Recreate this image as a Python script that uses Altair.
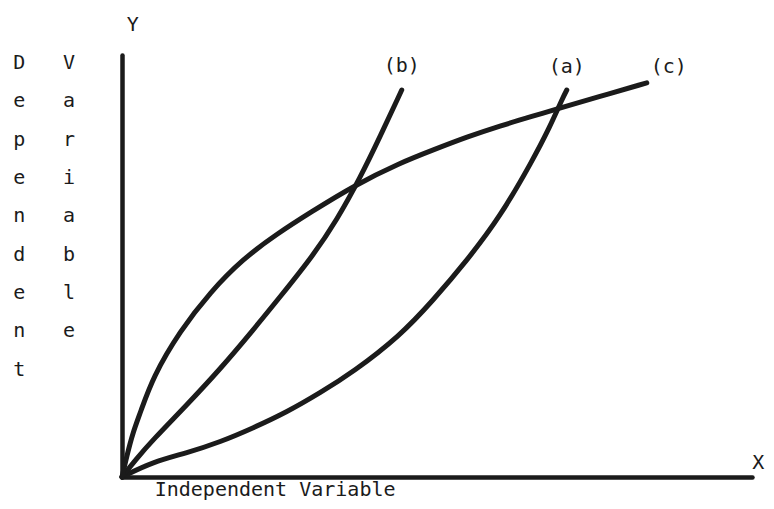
import altair as alt
import pandas as pd

# Curve values (x: independent variable 0-100, y: dependent variable 0-100)
a_x = [0, 4.9, 10.3, 15.6, 20.8, 26.2, 31.4, 36.7, 44.1, 49.4, 54.8, 60.0, 65.2, 67.9, 70.0, 70.6]
a_y = [0, 3.6, 5.7, 8.3, 11.6, 15.4, 19.9, 24.9, 33.4, 41.9, 51.4, 61.6, 75.1, 82.9, 90.0, 91.7]

b_x = [0, 2.1, 4.9, 10.3, 15.6, 20.8, 25.1, 30.3, 34.1, 37.8, 41.0, 44.4]
b_y = [0, 4.0, 8.8, 17.1, 25.6, 34.8, 42.7, 52.4, 60.9, 70.9, 80.8, 91.7]

c_x = [0, 0.8, 1.7, 2.9, 4.9, 9.2, 14.0, 19.2, 24.6, 29.8, 37.0, 44.1, 49.4, 54.8, 60.0, 65.2, 69.5, 75.4, 83.3]
c_y = [0, 5.2, 10.4, 15.2, 23.7, 34.6, 43.8, 51.7, 57.6, 62.6, 69.2, 74.4, 77.5, 80.6, 83.2, 85.5, 87.4, 90.0, 93.4]

# Curve labels
curve_names = ["(a)", "(b)", "(c)"]
curve_label_x = [70.6, 44.4, 86.8]
curve_label_y = [97.2, 97.4, 97.2]

# Vertical axis title letters
dep_letters = list("Dependent")
var_letters = list("Variable")
letter_y = [98.1, 89.1, 79.9, 70.9, 61.8, 52.6, 43.6, 34.6, 25.4]

INK = "#1b1b1b"
FONT = "DejaVu Sans Mono"

rows = []
for name, xs_, ys_ in [("a", a_x, a_y), ("b", b_x, b_y), ("c", c_x, c_y)]:
    for i, (x, y) in enumerate(zip(xs_, ys_)):
        rows.append({"series": name, "i": i, "x": x, "y": y})
curves = pd.DataFrame(rows)

xs = alt.Scale(domain=[0, 100], nice=False, zero=False)
ys = alt.Scale(domain=[0, 100], nice=False, zero=False)

x_axis = alt.Axis(labels=False, ticks=False, title=None, grid=False,
                  domainWidth=4.5, domainColor=INK, domainCap="round")
y_axis = alt.Axis(labels=False, ticks=False, title=None, grid=False,
                  domainWidth=4.5, domainColor=INK, domainCap="round")

lines = alt.Chart(curves).mark_line(
    color=INK, strokeWidth=5, interpolate="basis", strokeCap="round"
).encode(
    x=alt.X("x:Q", scale=xs, axis=x_axis),
    y=alt.Y("y:Q", scale=ys, axis=y_axis),
    detail="series:N",
    order="i:Q",
)

labels_df = pd.DataFrame({"t": curve_names, "x": curve_label_x, "y": curve_label_y})
curve_labels = alt.Chart(labels_df).mark_text(
    font=FONT, fontSize=20, color=INK, baseline="middle", align="center"
).encode(x=alt.X("x:Q", scale=xs), y=alt.Y("y:Q", scale=ys), text="t:N")

letters_rows = []
for ch, y in zip(dep_letters, letter_y):
    letters_rows.append({"t": ch, "x": -16.3, "y": y})
for ch, y in zip(var_letters, letter_y):
    letters_rows.append({"t": ch, "x": -8.4, "y": y})
letters_rows.append({"t": "Y", "x": 1.7, "y": 107.1})
letters_rows.append({"t": "X", "x": 101.0, "y": 3.3})
text_df = pd.DataFrame(letters_rows)
texts = alt.Chart(text_df).mark_text(
    font=FONT, fontSize=20, color=INK, baseline="middle", align="center"
).encode(x=alt.X("x:Q", scale=xs), y=alt.Y("y:Q", scale=ys), text="t:N")

xtitle_df = pd.DataFrame({"t": ["Independent Variable"], "x": [24.3], "y": [-4.4]})
xtitle = alt.Chart(xtitle_df).mark_text(
    font=FONT, fontSize=20, color=INK, baseline="alphabetic", align="center"
).encode(x=alt.X("x:Q", scale=xs), y=alt.Y("y:Q", scale=ys), text="t:N")

chart = alt.layer(lines, curve_labels, texts, xtitle).properties(
    width=630,
    height=422,
    padding={"left": 114, "top": 47, "right": 14, "bottom": 24},
    autosize=alt.AutoSizeParams(type="none"),
    background="white",
).configure_view(stroke=None)

chart.save("out.html", embed_options={"renderer": "svg", "actions": False})
